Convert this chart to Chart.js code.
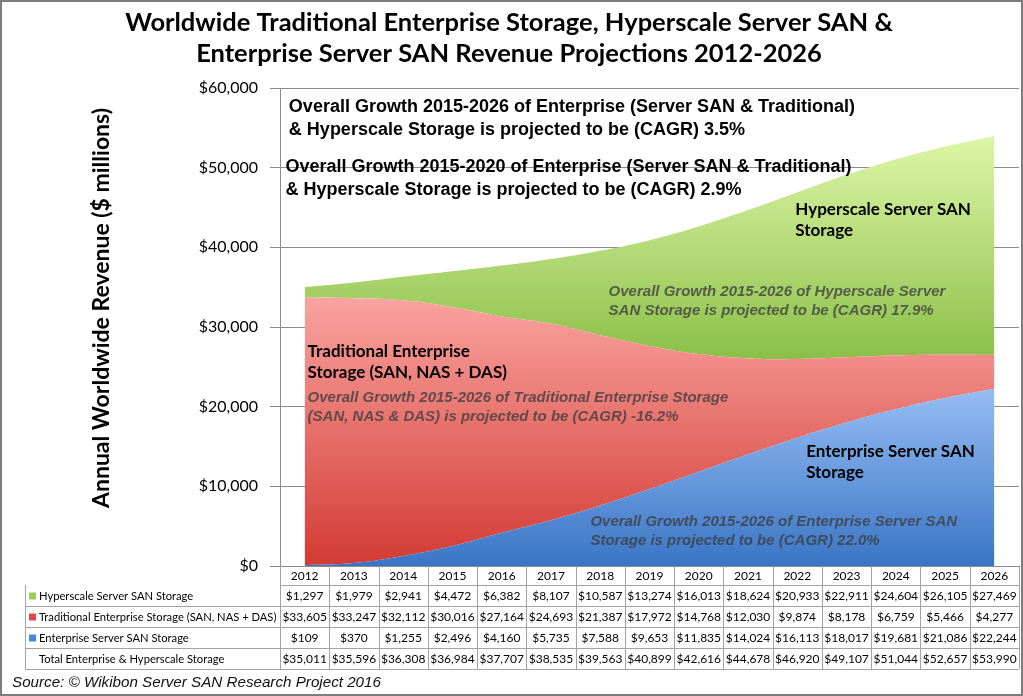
<!DOCTYPE html>
<html lang="en">

<head>
    <meta charset="UTF-8">
    <title>Worldwide Storage Revenue Projections 2012-2026</title>
    <script src="https://cdn.jsdelivr.net/npm/chart.js"></script>
    <style>
        body { margin: 0; background: #fff; }
        #wrap { width: 1023px; height: 696px; position: relative; }
    </style>
</head>

<body>
    <div id="wrap"><canvas id="storageChart"></canvas></div>

    <script>
        // data ($ millions)
        const years = ['2012', '2013', '2014', '2015', '2016', '2017', '2018', '2019', '2020', '2021', '2022', '2023', '2024', '2025', '2026'];
        const hyperscale = [1297, 1979, 2941, 4472, 6382, 8107, 10587, 13274, 16013, 18624, 20933, 22911, 24604, 26105, 27469];
        const traditional = [33605, 33247, 32112, 30016, 27164, 24693, 21387, 17972, 14768, 12030, 9874, 8178, 6759, 5466, 4277];
        const serverSan = [109, 370, 1255, 2496, 4160, 5735, 7588, 9653, 11835, 14024, 16113, 18017, 19681, 21086, 22244];
        const totals = [35011, 35596, 36308, 36984, 37707, 38535, 39563, 40899, 42616, 44678, 46920, 49107, 51044, 52657, 53990];
        const yTicks = [0, 10000, 20000, 30000, 40000, 50000, 60000];

        const titleLines = ['Worldwide Traditional Enterprise Storage, Hyperscale Server SAN &', 'Enterprise Server SAN Revenue Projections 2012-2026'];
        const yTitle = 'Annual Worldwide Revenue ($ millions)';
        const rowLabels = ['Hyperscale Server SAN Storage', 'Traditional Enterprise Storage (SAN, NAS + DAS)', 'Enterprise Server SAN Storage', 'Total Enterprise & Hyperscale Storage'];
        const sourceText = 'Source: \u00A9 Wikibon Server SAN Research Project 2016';

        // text boxes inside the plot: x in category index, y in $ millions
        const notes = [
            { x: -0.32, y: 57600, kind: 'bold', lines: ['Overall Growth 2015-2026 of Enterprise (Server SAN & Traditional)', '& Hyperscale Storage is projected to be (CAGR) 3.5%'] },
            { x: -0.39, y: 50100, kind: 'bold', lines: ['Overall Growth 2015-2020 of Enterprise (Server SAN & Traditional)', '& Hyperscale Storage is projected to be (CAGR) 2.9%'] },
            { x: 9.96, y: 44700, kind: 'label', lines: ['Hyperscale Server SAN', 'Storage'] },
            { x: 6.17, y: 34400, kind: 'italic', lines: ['Overall Growth 2015-2026 of Hyperscale Server', 'SAN Storage is projected to be (CAGR) 17.9%'] },
            { x: 0.06, y: 26900, kind: 'label', lines: ['Traditional Enterprise', 'Storage (SAN, NAS + DAS)'] },
            { x: 0.06, y: 21100, kind: 'italic', lines: ['Overall Growth 2015-2026 of Traditional Enterprise Storage', '(SAN, NAS & DAS) is projected to be (CAGR) -16.2%'] },
            { x: 10.18, y: 14400, kind: 'label', lines: ['Enterprise Server SAN', 'Storage'] },
            { x: 5.80, y: 5500, kind: 'italic', lines: ['Overall Growth 2015-2026 of Enterprise Server SAN', 'Storage is projected to be (CAGR) 22.0%'] }
        ];

        const noteStyles = {
            bold: { font: 'bold 18px "Liberation Sans", Arial', color: '#000', gap: 23 },
            label: { font: 'bold 17px Lato, "Open Sans"', color: '#000', gap: 21 },
            italic: { font: 'italic bold 15px "Liberation Sans", Arial', color: 'rgba(60,60,60,0.78)', gap: 18.5 }
        };

        const markerColors = ['#9ccc5c', '#e0484a', '#4a88d8', null];
        const money = (v) => '$' + v.toLocaleString('en-US');

        // vertical gradient fixed to y values of the scale
        const gradientFill = (stops) => (context) => {
            const chart = context.chart;
            const { ctx, chartArea, scales } = chart;
            if (!chartArea) return stops[0][1];
            const y = scales.y;
            const g = ctx.createLinearGradient(0, y.getPixelForValue(stops[0][0]), 0, y.getPixelForValue(stops[1][0]));
            g.addColorStop(0, stops[0][1]);
            g.addColorStop(1, stops[1][1]);
            return g;
        };

        const decorPlugin = {
            id: 'decor',
            afterDatasetsDraw(chart) {
                const { ctx, scales } = chart;
                ctx.save();
                ctx.textBaseline = 'middle';
                ctx.textAlign = 'left';
                notes.forEach((n) => {
                    const st = noteStyles[n.kind];
                    const px = scales.x.getPixelForValue(n.x);
                    const py = scales.y.getPixelForValue(n.y);
                    ctx.font = st.font;
                    ctx.fillStyle = st.color;
                    n.lines.forEach((line, i) => ctx.fillText(line, px, py + i * st.gap));
                });
                ctx.restore();
            },
            afterDraw(chart) {
                const { ctx, scales, chartArea, width, height } = chart;
                const x = scales.x;
                const step = x.getPixelForValue(1) - x.getPixelForValue(0);
                ctx.save();

                // title
                ctx.fillStyle = '#000';
                ctx.textAlign = 'center';
                ctx.textBaseline = 'middle';
                ctx.font = 'bold 25.5px Lato, "Open Sans"';
                titleLines.forEach((t, i) => ctx.fillText(t, 509, 23 + i * 31));

                // y axis title, sits a bit above the axis middle like the original
                ctx.save();
                ctx.translate(102, 308);
                ctx.rotate(-Math.PI / 2);
                ctx.font = 'bold 23px Lato, "Open Sans"';
                ctx.fillText(yTitle, 0, 0);
                ctx.restore();

                // data table under the plot
                const rowTops = [chartArea.bottom, 585, 606, 627, 648, 669];
                const tableLeft = 25;
                const right = x.getPixelForValue(years.length - 1) + step / 2;
                ctx.strokeStyle = '#a3a3a3';
                ctx.lineWidth = 1;
                ctx.beginPath();
                for (let r = 1; r < rowTops.length; r++) {
                    ctx.moveTo(r === 1 ? chartArea.left : tableLeft, rowTops[r] + 0.5);
                    ctx.lineTo(right, rowTops[r] + 0.5);
                }
                ctx.moveTo(tableLeft + 0.5, rowTops[1]);
                ctx.lineTo(tableLeft + 0.5, rowTops[5]);
                for (let i = 0; i <= years.length; i++) {
                    const cx = Math.round(chartArea.left + i * step) + 0.5;
                    ctx.moveTo(cx, rowTops[0]);
                    ctx.lineTo(cx, rowTops[5]);
                }
                ctx.stroke();

                const rows = [hyperscale, traditional, serverSan, totals];
                ctx.font = '12px Lato, "Open Sans"';
                ctx.fillStyle = '#000';
                ctx.textAlign = 'center';
                years.forEach((yr, i) => {
                    const cx = x.getPixelForValue(i);
                    ctx.fillText(yr, cx, (rowTops[0] + rowTops[1]) / 2 + 1);
                    rows.forEach((row, r) => {
                        ctx.fillText(money(row[i]), cx, (rowTops[r + 1] + rowTops[r + 2]) / 2 + 1);
                    });
                });
                ctx.textAlign = 'left';
                ctx.font = '11.2px Lato, "Open Sans"';
                rowLabels.forEach((lab, r) => {
                    const cy = (rowTops[r + 1] + rowTops[r + 2]) / 2 + 1;
                    if (markerColors[r]) {
                        ctx.fillStyle = markerColors[r];
                        ctx.fillRect(29, cy - 4, 7, 7);
                    }
                    ctx.fillStyle = '#000';
                    ctx.fillText(lab, 39, cy);
                });

                // source line
                ctx.font = 'italic 15.2px "Liberation Sans", Arial';
                ctx.fillStyle = '#111';
                ctx.fillText(sourceText, 12, 683);

                // frame
                ctx.strokeStyle = '#7d7d7d';
                ctx.lineWidth = 2;
                ctx.strokeRect(1, 1, width - 2, height - 2);
                ctx.restore();
            }
        };

        const common = { borderWidth: 0, pointRadius: 0, tension: 0.4 };

        new Chart(document.getElementById('storageChart'), {
            type: 'line',
            data: {
                labels: years,
                datasets: [
                    {
                        ...common,
                        label: 'Enterprise Server SAN Storage',
                        data: serverSan,
                        fill: 'origin',
                        backgroundColor: gradientFill([[22000, '#94bcf2'], [0, '#3a75c5']])
                    },
                    {
                        ...common,
                        label: 'Traditional Enterprise Storage (SAN, NAS + DAS)',
                        data: traditional,
                        fill: '-1',
                        backgroundColor: gradientFill([[34000, '#f9a4a1'], [0, '#d33b33']])
                    },
                    {
                        ...common,
                        label: 'Hyperscale Server SAN Storage',
                        data: hyperscale,
                        fill: '-1',
                        backgroundColor: gradientFill([[55000, '#e1f8ab'], [26000, '#8bbf49']])
                    }
                ]
            },
            options: {
                responsive: true,
                maintainAspectRatio: false,
                animation: false,
                layout: { padding: { left: 0, top: 88, right: 4, bottom: 130 } },
                scales: {
                    x: { display: false, offset: true },
                    y: {
                        stacked: true,
                        min: 0,
                        max: 60000,
                        afterFit: (scale) => { scale.width = 280; },
                        afterBuildTicks: (scale) => { scale.ticks = yTicks.map((v) => ({ value: v })); },
                        border: { display: true, color: '#8c8c8c', width: 1 },
                        grid: { color: '#8c8c8c', lineWidth: 1, tickLength: 10, drawTicks: true },
                        ticks: {
                            padding: 12,
                            color: '#000',
                            font: { family: 'Lato, "Open Sans"', size: 16 },
                            callback: (v) => money(v)
                        }
                    }
                },
                plugins: {
                    legend: { display: false },
                    tooltip: { enabled: false }
                }
            },
            plugins: [decorPlugin]
        });
    </script>

</body>

</html>
